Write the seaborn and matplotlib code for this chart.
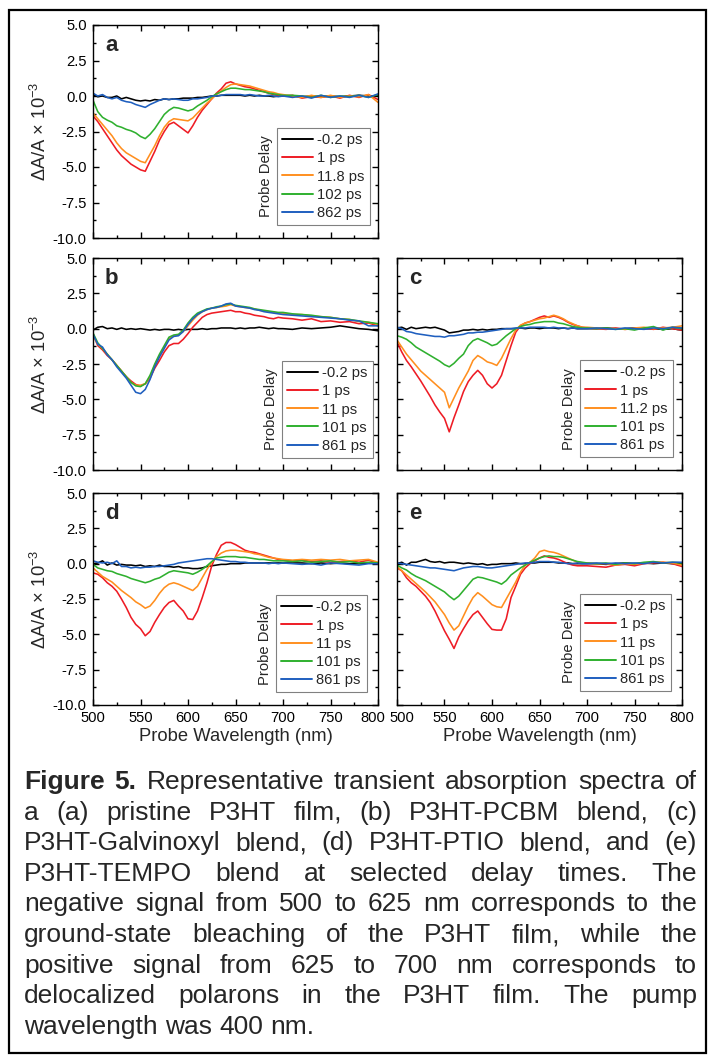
import numpy as np
import pandas as pd
import matplotlib
matplotlib.use("Agg")
import matplotlib.pyplot as plt
import matplotlib.transforms as mtransforms
import seaborn as sns
from matplotlib.patches import Rectangle
from matplotlib.ticker import MultipleLocator, FormatStrFormatter

# ---------------- data ----------------
WL = [500, 505, 510, 515, 520, 525, 530, 535, 540, 545, 550, 555, 560, 565, 570, 575,
      580, 585, 590, 595, 600, 605, 610, 615, 620, 625, 630, 635, 640, 645, 650, 655,
      660, 665, 670, 675, 680, 685, 690, 695, 700, 710, 720, 730, 740, 750, 760, 770,
      780, 790, 800]

# panel a : pristine P3HT
A_M02 = [0.1, -0.05, 0.0, -0.1, -0.1, 0.0, -0.2, -0.1, -0.2, -0.3, -0.35, -0.3, -0.35, -0.25, -0.3, -0.2,
         -0.25, -0.2, -0.2, -0.15, -0.15, -0.15, -0.1, -0.1, -0.05, 0.0, 0.0, 0.05, 0.05, 0.05, 0.05, 0.05,
         0.0, 0.05, 0.0, 0.05, 0.0, 0.0, -0.05, 0.0, 0.0, 0.0, -0.05, 0.0, -0.05, 0.0, -0.05, 0.0,
         0.05, 0.0, 0.0]
A_1 = [-1.4, -1.8, -2.3, -2.8, -3.3, -3.8, -4.2, -4.5, -4.8, -5.0, -5.2, -5.3, -4.6, -3.9, -3.1, -2.5,
       -2.0, -1.85, -2.1, -2.35, -2.6, -2.1, -1.5, -1.0, -0.6, -0.2, 0.2, 0.5, 0.9, 1.0, 0.85, 0.75,
       0.65, 0.6, 0.5, 0.4, 0.3, 0.2, 0.1, 0.05, 0.0, 0.05, -0.15, -0.05, -0.1, 0.0, -0.15, 0.05,
       -0.1, 0.1, -0.25]
A_11 = [-1.2, -1.6, -2.0, -2.4, -2.8, -3.3, -3.7, -4.0, -4.2, -4.4, -4.6, -4.7, -4.1, -3.5, -2.8, -2.2,
        -1.8, -1.6, -1.65, -1.7, -1.75, -1.55, -1.2, -0.85, -0.5, -0.2, 0.1, 0.35, 0.6, 0.8, 0.85, 0.8,
        0.75, 0.7, 0.6, 0.5, 0.4, 0.3, 0.25, 0.15, 0.1, 0.0, -0.1, 0.05, -0.1, 0.05, -0.1, 0.0,
        -0.05, 0.1, -0.45]
A_102 = [-0.3, -1.1, -1.5, -1.7, -1.85, -2.1, -2.2, -2.35, -2.45, -2.6, -2.85, -3.0, -2.7, -2.3, -1.8, -1.3,
         -1.0, -0.8, -0.85, -0.95, -1.05, -0.95, -0.7, -0.5, -0.3, -0.05, 0.15, 0.3, 0.45, 0.55, 0.55, 0.5,
         0.45, 0.45, 0.4, 0.35, 0.3, 0.2, 0.15, 0.1, 0.05, 0.05, 0.0, -0.1, 0.05, -0.1, 0.0, -0.05,
         0.05, -0.1, 0.1]
A_862 = [0.2, 0.0, 0.1, -0.1, -0.2, -0.1, -0.3, -0.4, -0.45, -0.6, -0.7, -0.8, -0.6, -0.45, -0.3, -0.2,
         -0.25, -0.2, -0.25, -0.3, -0.3, -0.2, -0.2, -0.15, -0.1, 0.0, 0.0, 0.05, 0.1, 0.1, 0.1, 0.1,
         0.05, 0.1, 0.05, 0.0, 0.0, 0.05, 0.0, -0.05, 0.0, -0.1, 0.0, -0.15, 0.05, -0.1, 0.0, -0.1,
         0.05, -0.1, 0.15]

# panel b : P3HT-PCBM
B_M02 = [-0.1, 0.1, 0.15, 0.0, 0.05, -0.05, 0.05, -0.05, 0.0, -0.05, 0.0, -0.05, -0.1, -0.05, -0.1, -0.05,
         -0.05, -0.1, -0.05, -0.1, -0.05, -0.05, -0.05, 0.0, -0.05, 0.0, 0.0, 0.05, 0.05, 0.05, 0.0, 0.05,
         0.0, 0.05, 0.05, 0.1, 0.05, 0.0, 0.05, 0.0, 0.0, -0.05, 0.05, 0.0, 0.05, 0.1, 0.2, 0.1,
         0.0, -0.05, -0.15]
B_1 = [-0.35, -1.2, -1.5, -1.9, -2.2, -2.6, -3.0, -3.4, -3.7, -3.95, -4.05, -3.9, -3.5, -2.8, -2.25, -1.65,
       -1.2, -1.05, -1.05, -0.75, -0.35, 0.1, 0.45, 0.8, 1.0, 1.1, 1.15, 1.2, 1.25, 1.3, 1.2, 1.2,
       1.1, 1.05, 0.95, 0.9, 0.85, 0.75, 0.7, 0.8, 0.75, 0.7, 0.6, 0.7, 0.5, 0.55, 0.45, 0.5,
       0.35, 0.4, 0.2]
B_11 = [-0.5, -1.1, -1.4, -1.8, -2.2, -2.6, -3.0, -3.4, -3.8, -4.0, -4.0, -3.9, -3.4, -2.6, -1.9, -1.3,
        -0.7, -0.5, -0.45, -0.2, 0.2, 0.6, 0.95, 1.2, 1.35, 1.45, 1.5, 1.55, 1.6, 1.7, 1.6, 1.55,
        1.5, 1.45, 1.4, 1.3, 1.25, 1.2, 1.15, 1.1, 1.1, 1.0, 1.0, 0.9, 0.85, 0.8, 0.7, 0.65,
        0.5, 0.45, 0.3]
B_101 = [-0.3, -1.0, -1.4, -1.8, -2.2, -2.6, -3.0, -3.4, -3.8, -4.05, -4.1, -3.9, -3.3, -2.5, -1.8, -1.2,
         -0.6, -0.45, -0.4, -0.1, 0.4, 0.8, 1.1, 1.25, 1.4, 1.45, 1.55, 1.6, 1.7, 1.75, 1.65, 1.6,
         1.55, 1.5, 1.4, 1.35, 1.3, 1.25, 1.2, 1.15, 1.15, 1.05, 1.0, 0.95, 0.85, 0.8, 0.7, 0.65,
         0.55, 0.45, 0.35]
B_861 = [-0.4, -1.1, -1.3, -1.85, -2.2, -2.7, -3.1, -3.5, -4.0, -4.5, -4.6, -4.3, -3.6, -2.7, -2.0, -1.4,
         -0.8, -0.55, -0.5, -0.2, 0.3, 0.7, 1.0, 1.2, 1.35, 1.45, 1.5, 1.6, 1.75, 1.8, 1.6, 1.55,
         1.5, 1.45, 1.35, 1.3, 1.2, 1.15, 1.1, 1.05, 1.0, 0.95, 0.9, 0.85, 0.8, 0.75, 0.7, 0.6,
         0.55, 0.2, 0.2]

# panel c : P3HT-Galvinoxyl
C_M02 = [0.05, 0.1, -0.05, 0.1, 0.0, 0.05, 0.1, 0.05, 0.1, 0.0, -0.1, -0.3, -0.25, -0.2, -0.1, -0.1,
         -0.05, -0.1, -0.05, -0.1, -0.05, -0.05, 0.0, 0.0, 0.0, 0.0, 0.05, 0.0, 0.05, 0.05, 0.0, 0.05,
         0.05, 0.05, 0.0, 0.05, 0.0, 0.05, 0.0, 0.0, 0.0, 0.0, 0.05, 0.0, 0.0, 0.05, 0.0, 0.0,
         -0.05, 0.0, -0.1]
C_1 = [-0.95, -1.65, -2.25, -2.7, -3.2, -3.7, -4.25, -4.8, -5.4, -5.9, -6.35, -7.3, -6.3, -5.4, -4.45, -3.75,
       -3.3, -2.95, -3.3, -3.9, -4.2, -3.9, -3.3, -2.25, -1.2, -0.25, 0.2, 0.4, 0.5, 0.65, 0.8, 0.9,
       0.8, 0.9, 0.8, 0.65, 0.45, 0.3, 0.2, 0.1, 0.05, 0.0, -0.05, 0.05, -0.05, 0.0, 0.05, -0.05,
       0.1, 0.0, -0.1]
C_11 = [-0.8, -1.3, -1.8, -2.2, -2.6, -3.0, -3.3, -3.6, -3.9, -4.2, -4.5, -5.6, -4.9, -4.2, -3.6, -3.0,
        -2.25, -1.9, -2.1, -2.35, -2.45, -2.6, -2.1, -1.4, -0.7, -0.1, 0.25, 0.4, 0.5, 0.6, 0.7, 0.75,
        0.85, 0.95, 0.85, 0.7, 0.5, 0.35, 0.2, 0.1, 0.1, 0.05, 0.0, 0.0, -0.05, 0.05, 0.1, 0.0,
        0.05, 0.1, 0.2]
C_101 = [-0.5, -0.6, -0.75, -1.0, -1.3, -1.5, -1.7, -1.9, -2.1, -2.3, -2.55, -2.7, -2.45, -2.1, -1.8, -1.2,
         -0.85, -0.7, -0.85, -1.0, -1.2, -1.1, -0.8, -0.5, -0.25, 0.0, 0.15, 0.25, 0.3, 0.4, 0.45, 0.5,
         0.5, 0.5, 0.4, 0.35, 0.25, 0.15, 0.1, 0.05, 0.05, 0.0, 0.05, -0.05, 0.0, -0.1, 0.05, 0.15,
         -0.1, 0.1, 0.0]
C_861 = [0.1, 0.0, -0.2, -0.25, -0.35, -0.4, -0.45, -0.5, -0.55, -0.55, -0.6, -0.5, -0.5, -0.45, -0.4, -0.3,
         -0.3, -0.25, -0.25, -0.2, -0.15, -0.1, -0.05, 0.0, 0.0, 0.05, 0.05, 0.05, 0.1, 0.1, 0.1, 0.1,
         0.05, 0.1, 0.05, 0.05, 0.0, 0.05, 0.0, 0.0, 0.0, 0.05, 0.0, -0.05, 0.05, 0.0, -0.05, 0.05,
         0.0, 0.1, 0.05]

# panel d : P3HT-PTIO
D_M02 = [0.0, 0.05, 0.2, -0.1, 0.05, -0.1, -0.05, -0.1, -0.1, -0.15, -0.1, -0.2, -0.15, -0.2, -0.1, -0.2,
         -0.2, -0.25, -0.2, -0.3, -0.3, -0.35, -0.35, -0.3, -0.2, -0.15, -0.1, -0.05, -0.05, 0.0, 0.0, 0.0,
         0.05, 0.05, 0.05, 0.05, 0.05, 0.05, 0.05, 0.05, 0.05, 0.05, 0.05, 0.0, 0.05, 0.0, 0.05, 0.0,
         0.0, 0.05, 0.0]
D_1 = [-0.65, -0.75, -1.0, -1.35, -1.6, -1.95, -2.5, -3.1, -3.8, -4.3, -4.6, -5.1, -4.8, -4.15, -3.6, -3.1,
       -2.75, -2.6, -3.0, -3.35, -3.9, -3.95, -3.35, -2.4, -1.35, -0.15, 0.65, 1.3, 1.5, 1.5, 1.35, 1.15,
       0.95, 0.85, 0.8, 0.7, 0.6, 0.5, 0.4, 0.3, 0.25, 0.2, 0.25, 0.15, 0.2, 0.1, 0.15, 0.2,
       0.1, 0.25, 0.0]
D_11 = [-0.3, -0.6, -0.9, -1.1, -1.3, -1.6, -1.9, -2.15, -2.4, -2.7, -2.9, -3.15, -3.0, -2.6, -2.1, -1.7,
        -1.45, -1.35, -1.45, -1.6, -1.75, -1.9, -1.6, -1.0, -0.4, 0.1, 0.5, 0.75, 0.9, 0.95, 0.95, 0.9,
        0.85, 0.8, 0.7, 0.65, 0.55, 0.45, 0.4, 0.35, 0.3, 0.25, 0.3, 0.25, 0.3, 0.25, 0.3, 0.2,
        0.25, 0.3, 0.1]
D_101 = [-0.05, -0.3, -0.4, -0.5, -0.55, -0.7, -0.8, -0.9, -1.05, -1.15, -1.25, -1.35, -1.25, -1.1, -1.0, -0.8,
         -0.6, -0.5, -0.55, -0.6, -0.65, -0.75, -0.6, -0.4, -0.15, 0.15, 0.4, 0.45, 0.5, 0.5, 0.5, 0.45,
         0.45, 0.4, 0.35, 0.3, 0.3, 0.25, 0.2, 0.2, 0.2, 0.15, 0.2, 0.1, 0.15, 0.2, 0.1, 0.15,
         0.05, 0.1, 0.05]
D_861 = [0.2, 0.1, 0.05, 0.1, 0.0, 0.2, -0.2, -0.2, -0.3, -0.25, -0.3, -0.25, -0.25, -0.2, -0.2, -0.15,
         -0.1, -0.05, 0.05, 0.1, 0.15, 0.2, 0.25, 0.3, 0.35, 0.35, 0.3, 0.25, 0.2, 0.15, 0.15, 0.1,
         0.1, 0.05, 0.05, 0.05, 0.05, 0.0, 0.05, 0.0, 0.05, 0.0, -0.05, 0.0, -0.1, 0.05, 0.0, -0.05,
         -0.1, 0.0, 0.0]

# panel e : P3HT-TEMPO
E_M02 = [0.0, 0.1, -0.1, 0.1, 0.1, 0.2, 0.3, 0.15, 0.1, 0.15, 0.05, 0.1, 0.1, 0.05, 0.0, 0.05,
         0.0, -0.05, 0.0, -0.1, -0.05, -0.05, 0.0, 0.0, 0.0, 0.05, 0.0, 0.0, 0.05, 0.05, 0.1, 0.1,
         0.1, 0.1, 0.05, 0.05, 0.05, 0.0, 0.0, 0.0, 0.0, 0.0, -0.05, 0.0, 0.05, 0.0, 0.05, 0.0,
         0.05, 0.0, 0.0]
E_1 = [-0.3, -0.5, -1.0, -1.35, -1.6, -1.95, -2.3, -2.75, -3.35, -4.05, -4.75, -5.35, -6.0, -5.2, -4.6, -4.05,
       -3.6, -3.35, -3.8, -4.25, -4.65, -4.7, -4.7, -3.9, -2.4, -1.6, -0.75, -0.3, 0.0, 0.2, 0.4, 0.55,
       0.45, 0.4, 0.3, 0.15, 0.0, -0.1, -0.15, -0.15, -0.15, -0.2, -0.25, -0.1, -0.05, -0.15, 0.0, 0.05,
       0.1, 0.0, -0.2]
E_11 = [-0.2, -0.5, -0.8, -1.1, -1.4, -1.7, -2.0, -2.35, -2.7, -3.15, -3.6, -4.2, -4.7, -4.4, -3.7, -3.0,
        -2.4, -2.05, -2.3, -2.6, -2.9, -3.05, -3.1, -2.5, -1.9, -1.3, -0.6, -0.1, 0.1, 0.4, 0.85, 0.95,
        0.85, 0.8, 0.7, 0.55, 0.4, 0.25, 0.1, 0.05, 0.05, 0.0, 0.0, -0.1, 0.0, -0.05, 0.05, 0.1,
        0.1, 0.05, -0.1]
E_101 = [-0.1, -0.3, -0.45, -0.7, -0.9, -1.05, -1.2, -1.4, -1.6, -1.8, -2.0, -2.3, -2.55, -2.3, -1.9, -1.5,
         -1.1, -0.95, -1.0, -1.1, -1.2, -1.3, -1.45, -1.2, -0.8, -0.55, -0.3, -0.1, 0.1, 0.25, 0.4, 0.5,
         0.55, 0.5, 0.5, 0.45, 0.35, 0.25, 0.15, 0.1, 0.05, 0.0, 0.05, -0.05, 0.05, 0.0, 0.1, 0.15,
         0.05, 0.1, 0.05]
E_861 = [0.05, 0.0, -0.05, -0.1, -0.15, -0.2, -0.25, -0.3, -0.3, -0.35, -0.4, -0.45, -0.5, -0.4, -0.3, -0.25,
         -0.2, -0.2, -0.25, -0.3, -0.3, -0.25, -0.2, -0.15, -0.1, -0.05, 0.0, 0.05, 0.05, 0.1, 0.15, 0.15,
         0.15, 0.1, 0.1, 0.05, 0.0, 0.0, 0.05, 0.0, 0.0, 0.05, 0.0, 0.05, 0.0, 0.05, 0.0, 0.1,
         0.05, 0.1, 0.1]

LABELS_A = ["-0.2 ps", "1 ps", "11.8 ps", "102 ps", "862 ps"]
LABELS_B = ["-0.2 ps", "1 ps", "11 ps", "101 ps", "861 ps"]
LABELS_C = ["-0.2 ps", "1 ps", "11.2 ps", "101 ps", "861 ps"]
LABELS_D = ["-0.2 ps", "1 ps", "11 ps", "101 ps", "861 ps"]
LABELS_E = ["-0.2 ps", "1 ps", "11 ps", "101 ps", "861 ps"]

PANEL_LETTERS = ["a", "b", "c", "d", "e"]
COLORS = ["#000000", "#ee1c25", "#ff8f1f", "#2fb02f", "#1f5fbf"]

Y_TICKS = [-10.0, -7.5, -5.0, -2.5, 0.0, 2.5, 5.0]
X_TICKS = [500, 550, 600, 650, 700, 750, 800]

CAPTION_LINES = [
    "Figure 5. Representative transient absorption spectra of",
    "a (a) pristine P3HT film, (b) P3HT-PCBM blend, (c)",
    "P3HT-Galvinoxyl blend, (d) P3HT-PTIO blend, and (e)",
    "P3HT-TEMPO blend at selected delay times. The",
    "negative signal from 500 to 625 nm corresponds to the",
    "ground-state bleaching of the P3HT film, while the",
    "positive signal from 625 to 700 nm corresponds to",
    "delocalized polarons in the P3HT film. The pump",
    "wavelength was 400 nm.",
]

# ---------------- style ----------------
sns.set_style("ticks")
FONT = ["Liberation Sans", "DejaVu Sans"]
plt.rcParams["font.family"] = FONT
plt.rcParams["mathtext.default"] = "regular"
plt.rcParams["axes.unicode_minus"] = False
plt.rcParams["axes.linewidth"] = 1.0
plt.rcParams["axes.edgecolor"] = "black"

W, H = 712, 1057
fig = plt.figure(figsize=(W / 100, H / 100), dpi=100)
fig.patch.set_facecolor("white")

# axes boxes in pixels: left, top, right, bottom
BOXES = [(93, 25, 378, 238), (93, 258, 378, 470), (397, 258, 682, 470),
         (93, 493, 378, 705), (397, 493, 682, 705)]
SERIES = [[A_M02, A_1, A_11, A_102, A_862],
          [B_M02, B_1, B_11, B_101, B_861],
          [C_M02, C_1, C_11, C_101, C_861],
          [D_M02, D_1, D_11, D_101, D_861],
          [E_M02, E_1, E_11, E_101, E_861]]
LABELS = [LABELS_A, LABELS_B, LABELS_C, LABELS_D, LABELS_E]
YLAB = [True, True, False, True, False]
XLAB = [False, False, False, True, True]
LEG_ANCHOR = [(0.972, 0.061), (0.982, 0.057), (0.968, 0.061), (0.961, 0.061), (0.961, 0.066)]
# small horizontal nudges (px) of the edge x-tick labels where panels d and e meet
XLABEL_NUDGE = [None, None, None, (-1, -5), (0, 5)]

TICK_FS = 10.6
legends = []
for i, (l, t, r, b) in enumerate(BOXES):
    ax = fig.add_axes([l / W, 1 - b / H, (r - l) / W, (b - t) / H])
    labs = LABELS[i]
    frames = []
    for lab, vals in zip(labs, SERIES[i]):
        frames.append(pd.DataFrame({"wl": WL, "dA": vals, "delay": lab}))
    df = pd.concat(frames, ignore_index=True)
    sns.lineplot(data=df, x="wl", y="dA", hue="delay", hue_order=labs,
                 palette=dict(zip(labs, COLORS)), linewidth=1.15, ax=ax,
                 estimator=None, sort=False)
    ax.set_xlim(500, 800)
    ax.set_ylim(-10, 5)
    ax.set_xticks(X_TICKS)
    ax.set_yticks(Y_TICKS)
    ax.xaxis.set_minor_locator(MultipleLocator(25))
    ax.yaxis.set_minor_locator(MultipleLocator(1.25))
    ax.yaxis.set_major_formatter(FormatStrFormatter("%.1f"))
    ax.tick_params(which="both", direction="in", top=True, right=True,
                   width=1.0, colors="black", labelsize=TICK_FS)
    ax.tick_params(which="major", length=4.5)
    ax.tick_params(which="minor", length=2.5)
    ax.tick_params(axis="x", pad=4.5, labelbottom=XLAB[i])
    ax.tick_params(axis="y", pad=4.5, labelleft=YLAB[i])
    for sp in ax.spines.values():
        sp.set_visible(True)
        sp.set_linewidth(1.0)
    if YLAB[i]:
        ax.set_ylabel("ΔA/A × 10$^{-3}$", fontsize=13.2)
        ax.yaxis.set_label_coords(-0.152, 0.5)
    else:
        ax.set_ylabel("")
    if XLAB[i]:
        ax.set_xlabel("Probe Wavelength (nm)", fontsize=13.2, va="top")
        ax.xaxis.set_label_coords(0.5, -0.108)
        idx, dx = XLABEL_NUDGE[i]
        lbl = ax.get_xticklabels()[idx]
        lbl.set_transform(lbl.get_transform() +
                          mtransforms.ScaledTranslation(dx / 100, 0, fig.dpi_scale_trans))
    else:
        ax.set_xlabel("")
    ax.text(0.042, 0.905, PANEL_LETTERS[i], transform=ax.transAxes,
            fontsize=16, fontweight="bold", ha="left", va="center")
    handles, hl = ax.get_legend_handles_labels()
    leg = ax.legend(handles, hl, loc="lower right", bbox_to_anchor=LEG_ANCHOR[i],
                    fontsize=TICK_FS, frameon=True, fancybox=False, framealpha=1,
                    edgecolor="#808080", handlelength=2.1, handletextpad=0.3,
                    labelspacing=0.28, borderpad=0.35, borderaxespad=0.0)
    leg.get_frame().set_linewidth(0.8)
    for h in leg.get_lines():
        h.set_linewidth(1.4)
    legends.append(leg)

fig.canvas.draw()
renderer = fig.canvas.get_renderer()
for leg in legends:
    bb = leg.get_window_extent(renderer)
    fig.text((bb.x0 - 11) / W, (bb.y0 + bb.y1) / 2 / H, "Probe Delay", rotation=90,
             fontsize=TICK_FS, ha="center", va="center")

# outer frame
fig.add_artist(Rectangle((9 / W, 1 - 1053 / H), (706 - 9) / W, (1053 - 10) / H,
                         transform=fig.transFigure, fill=False, edgecolor="black",
                         linewidth=1.6))

# justified caption
CAP_FS = 19.0
LEFT_PX, RIGHT_PX = 24, 697
BASE0, LINE_H = 789, 30.6
for li, line in enumerate(CAPTION_LINES):
    y = 1 - (BASE0 + li * LINE_H) / H
    words = line.split(" ")
    texts = []
    for wi, wd in enumerate(words):
        bold = (li == 0 and wi < 2)
        texts.append(fig.text(0, y, wd, fontsize=CAP_FS,
                              fontweight="bold" if bold else "normal",
                              ha="left", va="baseline"))
    widths = [tx.get_window_extent(renderer).width for tx in texts]
    if li == len(CAPTION_LINES) - 1:
        gap = 0.278 * CAP_FS * 100 / 72
    else:
        gap = (RIGHT_PX - LEFT_PX - sum(widths)) / (len(words) - 1)
    x = LEFT_PX
    for tx, wdt in zip(texts, widths):
        tx.set_x(x / W)
        x += wdt + gap

fig.savefig("out.png", dpi=100, facecolor="white")
